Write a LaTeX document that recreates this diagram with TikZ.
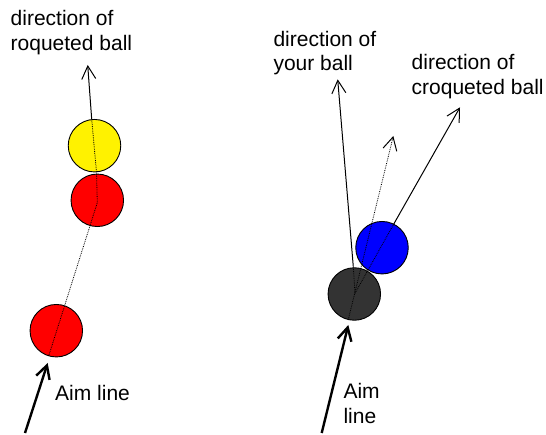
\documentclass[tikz,border=0pt]{standalone}
\usepackage{fontspec}
\setmainfont{Liberation Sans}
\usetikzlibrary{arrows.meta}
\tikzset{
  ball/.style={circle, draw=black, line width=0.9pt, minimum size=52.5pt, inner sep=0pt},
  lbl/.style={anchor=base west, inner sep=0pt, align=left, font=\fontsize{21}{24.8}\selectfont},
  openhead/.style={-{Straight Barb[length=13pt,width=14pt,line width=1pt]}},
  thinarrow/.style={line width=1pt, openhead},
  aimarrow/.style={line width=2.4pt, -{Straight Barb[length=13pt,width=14pt,line width=2.4pt]}},
  dotline/.style={line width=0.8pt, densely dotted},
}
\begin{document}
\begin{tikzpicture}[x=1pt,y=-1pt]
\useasboundingbox (0,0) rectangle (546,435);
% ---------- left: roquet ----------
\node[ball, fill=red] (rb) at (56.3,330.7) {};
\node[ball, fill=red] (rt) at (97.3,200.3) {};
\node[ball, fill=yellow] (yb) at (94.5,145.7) {};
\coordinate (lstart) at (49,355);
\coordinate (lmid) at (97.3,202.7);
\coordinate (lyb) at (96.5,172);
\coordinate (ltop) at (91.7,119.3);
\coordinate (ltip) at (87.7,65);
\coordinate (laimtail) at (25,433);
\coordinate (laimtip) at (47.7,363);
\draw[dotline] (lstart) -- (lmid) -- (lyb) -- (ltop);
\draw[thinarrow] (ltop) -- (ltip);
\draw[aimarrow] (laimtail) -- (laimtip);
\node[lbl] (t1) at (10.5,50.5) {direction of\\roqueted ball};
\node[lbl] (t2) at (55,400) {Aim line};
% ---------- right: croquet ----------
\node[ball, fill=blue] (bb) at (382,247.7) {};
\node[ball, fill=black!80] (db) at (354.3,294) {};
\coordinate (rstart) at (348.3,319.5);
\coordinate (rc) at (355,293.3);
\coordinate (rdtip) at (393.3,136);
\coordinate (ryour) at (353.3,266.7);
\coordinate (ryourtip) at (337.7,79.3);
\coordinate (rcroq) at (393.5,224.5);
\coordinate (rcroqtip) at (460,107.3);
\coordinate (raimtail) at (321.7,433);
\coordinate (raimtip) at (348.3,325);
\draw[dotline, openhead] (rstart) -- (rdtip);
\draw[dotline] (rc) -- (ryour);
\draw[dotline] (rc) -- (rcroq);
\draw[thinarrow] (ryour) -- (ryourtip);
\draw[thinarrow] (rcroq) -- (rcroqtip);
\draw[aimarrow] (raimtail) -- (raimtip);
\node[lbl] (t3) at (273.3,71) {direction of\\your ball};
\node[lbl] (t4) at (411.5,94.5) {direction of\\croqueted ball};
\node[lbl] (t5) at (343.3,423.3) {Aim\\line};
\end{tikzpicture}
\end{document}
